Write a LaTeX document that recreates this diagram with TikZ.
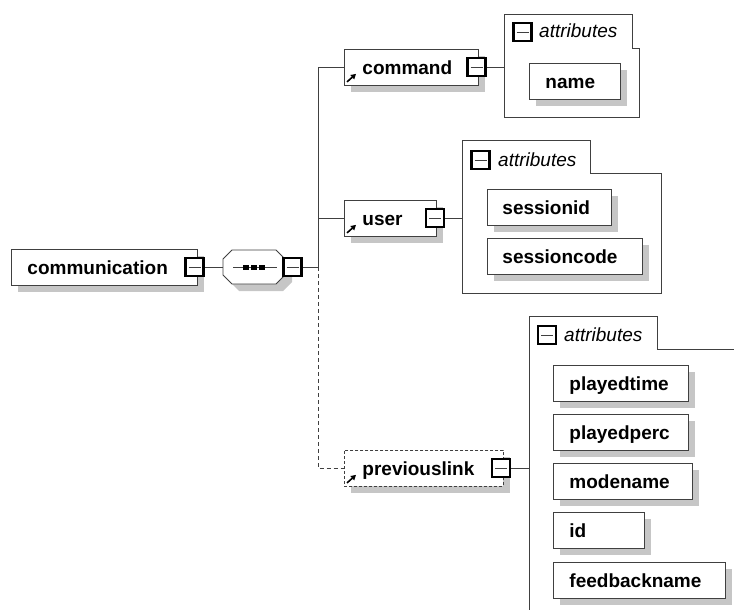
\documentclass[tikz,border=0pt]{standalone}
\usepackage{fontspec}
\setmainfont{Liberation Sans}
\usetikzlibrary{shadows,arrows.meta}

\definecolor{edge}{HTML}{404040}
\definecolor{shade}{HTML}{C6C6C6}

\tikzset{
  boxbase/.style={draw=edge, line width=0.9pt, fill=white, anchor=north west,
    minimum height=36pt, text height=14pt, text depth=0pt, align=left,
    inner ysep=0pt, font=\fontsize{19}{22}\selectfont\bfseries},
  shaded/.style={drop shadow={shadow xshift=7pt, shadow yshift=-7pt, fill=shade, opacity=1}},
  elem/.style={boxbase, shaded, inner xsep=18pt},
  attr/.style={boxbase, shaded, inner xsep=16pt},
  minus/.style={draw=black, line width=2.2pt, fill=white, minimum size=18pt, inner sep=0pt,
    path picture={\draw[line width=0.9pt, edge]
      ([xshift=3pt]path picture bounding box.west) -- ([xshift=-3pt]path picture bounding box.east);}},
  group/.style={draw=edge, line width=0.9pt},
  conn/.style={draw=edge, line width=0.9pt},
  refarrow/.style={line width=1.6pt, -{Triangle[length=5pt,width=5.5pt]}},
  tabtext/.style={font=\fontsize{19}{22}\selectfont\itshape, anchor=base west, inner sep=0pt},
}

\begin{document}
\begin{tikzpicture}[x=1pt, y=-1pt]
\useasboundingbox (0,0) rectangle (734,610);

% root element
\node[elem, inner xsep=16pt, text width=154pt] (comm) at (11,249) {communication};
\node[minus] (commx) at (194.5,267) {};

% sequence compositor
\node[minimum width=62pt, minimum height=34pt, inner sep=0pt] (seq) at (254,267) {};
\draw[conn, fill=white, shaded] (232,250) -- (276,250) -- (285,259) -- (285,275) -- (276,284)
  -- (232,284) -- (223,275) -- (223,259) -- cycle;
\draw[conn] (233,267) -- (277,267);
\fill[black] (243,264.5) rectangle (249,269.5);
\fill[black] (251,264.5) rectangle (257,269.5);
\fill[black] (259,264.5) rectangle (265,269.5);
\node[minus] (seqx) at (292.5,267) {};
\draw[conn] (commx.east) -- (seq.west);

% child elements
\node[elem, text width=98pt] (command) at (344,49) {command};
\node[elem, text width=56pt] (user) at (344,200) {user};
\node[elem, text width=123pt, dash pattern=on 3pt off 2pt] (prevlink) at (344,450) {previouslink};
\foreach \n in {command,user,prevlink}
  \draw[refarrow] ([shift={(3pt,4pt)}]\n.south west) -- ++(9pt,8pt);
\node[minus] (commandx) at (476.5,67) {};
\node[minus] (userx) at (435,218) {};
\node[minus] (prevlinkx) at (501,468) {};

% sequence bus
\coordinate (bus) at (318,267);
\draw[conn] (seqx.east) -- (bus);
\draw[conn] (bus) |- (command.west);
\draw[conn] (bus) |- (user.west);
\draw[conn, dash pattern=on 4pt off 3pt] (bus) |- (prevlink.west);

% attributes of command
\draw[group] (504,14) -- (632,14) -- (632,48) -- (639,48) -- (639,117) -- (504,117) -- cycle;
\node[minus] (cmdtab) at (522.5,32) {};
\node[tabtext] (cmdtabtext) at (539,38) {attributes};
\coordinate (cmdgrp) at (504,67);
\draw[conn] (commandx.east) -- (cmdgrp);
\node[attr, text width=59pt] (name) at (529,63) {name};

% attributes of user
\draw[group] (462,140) -- (590,140) -- (590,173) -- (661,173) -- (661,293) -- (462,293) -- cycle;
\node[minus] (usertab) at (480.5,160) {};
\node[tabtext] (usertabtext) at (498,166) {attributes};
\coordinate (usergrp) at (462,218);
\draw[conn] (userx.east) -- (usergrp);
\node[attr, inner xsep=15pt, text width=94pt] (sessionid) at (487,189) {sessionid};
\node[attr, inner xsep=15pt, text width=125pt] (sessioncode) at (487,238) {sessioncode};

% attributes of previouslink
\draw[group] (529,610) -- (529,316) -- (657,316) -- (657,349) -- (734,349);
\node[minus] (prevtab) at (547,335) {};
\node[tabtext] (prevtabtext) at (564,341) {attributes};
\coordinate (prevgrp) at (529,468);
\draw[conn] (prevlinkx.east) -- (prevgrp);
\node[attr, text width=103pt] (playedtime) at (553,365) {playedtime};
\node[attr, text width=103pt] (playedperc) at (553,414) {playedperc};
\node[attr, text width=107pt] (modename) at (553,463) {modename};
\node[attr, text width=59pt] (id) at (553,512) {id};
\node[attr, text width=140pt] (feedbackname) at (553,562) {feedbackname};
\end{tikzpicture}
\end{document}
